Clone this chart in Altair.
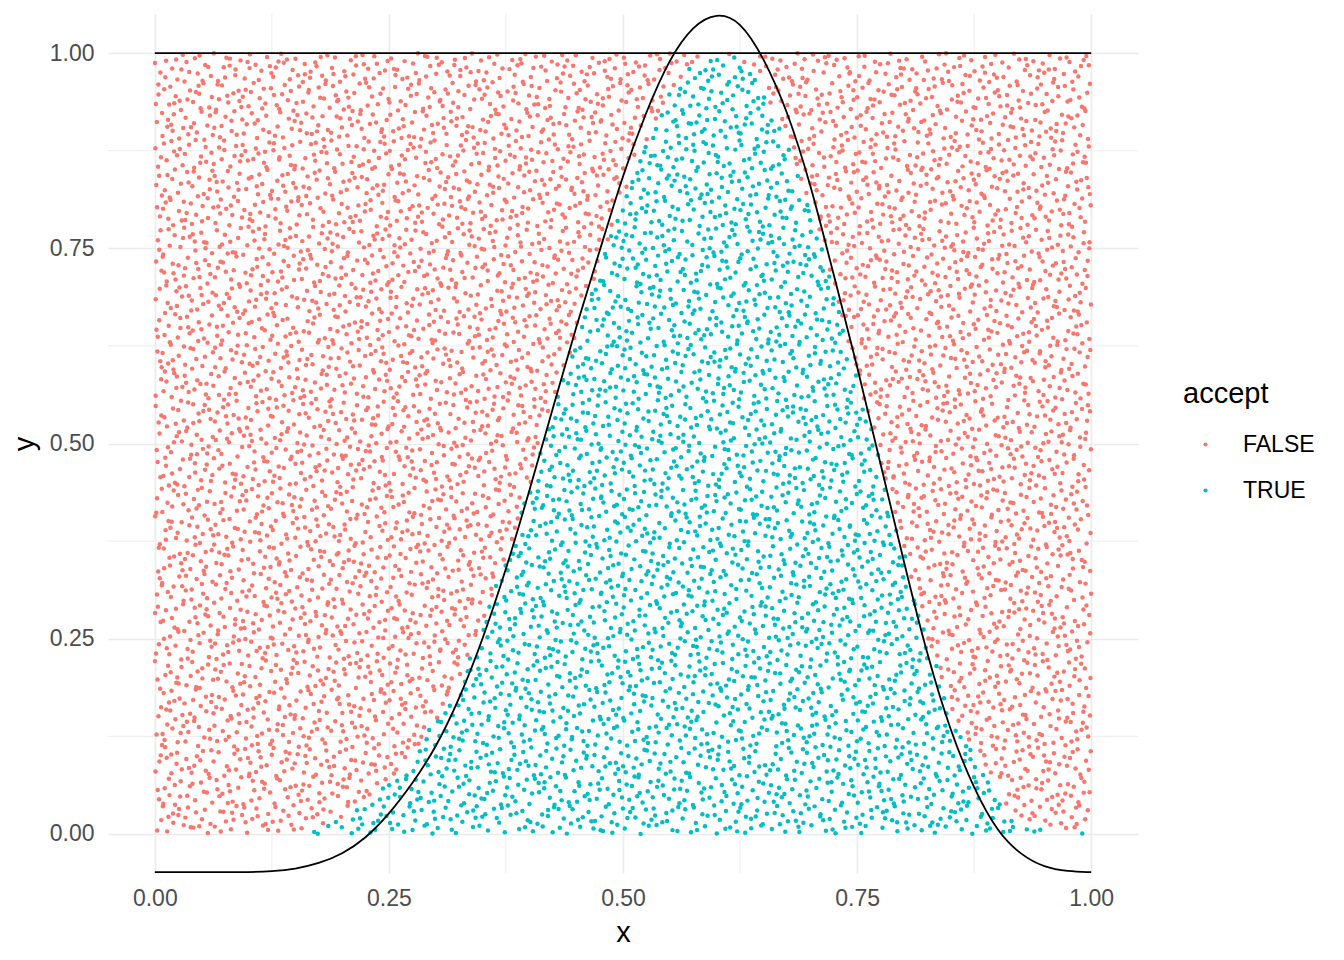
import numpy as np
import pandas as pd
import altair as alt

# ---- values ----
X_BREAKS = [0.0, 0.25, 0.5, 0.75, 1.0]
Y_BREAKS = [0.0, 0.25, 0.5, 0.75, 1.0]
MINOR_BREAKS = [0.125, 0.375, 0.625, 0.875]

# target curve as drawn
CURVE_X = [0.000, 0.025, 0.050, 0.075, 0.100, 0.125, 0.150, 0.175, 0.200, 0.225,
           0.250, 0.275, 0.300, 0.325, 0.350, 0.375, 0.400, 0.425, 0.450, 0.475,
           0.500, 0.525, 0.550, 0.575, 0.600, 0.625, 0.650, 0.675, 0.700, 0.725,
           0.750, 0.775, 0.800, 0.825, 0.850, 0.875, 0.900, 0.925, 0.950, 0.975, 1.000]
CURVE_Y = [-0.049, -0.049, -0.049, -0.049, -0.049, -0.048, -0.045, -0.038, -0.026, -0.006,
           0.025, 0.064, 0.110, 0.172, 0.248, 0.338, 0.439, 0.545, 0.650, 0.746,
           0.845, 0.926, 0.994, 1.036, 1.052, 1.042, 0.995, 0.928, 0.834, 0.716,
           0.600, 0.474, 0.348, 0.228, 0.130, 0.057, 0.002, -0.027, -0.043, -0.048, -0.049]

# envelope line at y = 1
ENV_X = [0.0, 1.0]
ENV_Y = [1.0, 1.0]

# proposal cloud: uniform over the unit square, about 8500 points
N_POINTS = 8500
CATEGORIES = ["FALSE", "TRUE"]
COLORS = ["#F8766D", "#00BFC4"]


def halton(n, base, leap):
    out = np.zeros(n)
    for i in range(n):
        f, r, k = 1.0, 0.0, i * leap + 1
        while k > 0:
            f /= base
            r += f * (k % base)
            k //= base
        out[i] = r
    return out


px = halton(N_POINTS, 2, 409)
py = halton(N_POINTS, 3, 409)
acc_level = (np.interp(px, CURVE_X, CURVE_Y) + 0.05) / 1.1
accept = np.where(py < acc_level, "TRUE", "FALSE")
points = pd.DataFrame({"x": px, "y": py, "accept": accept})
curve = pd.DataFrame({"x": CURVE_X, "y": CURVE_Y})
env = pd.DataFrame({"x": ENV_X, "y": ENV_Y})
minor = pd.DataFrame({"v": MINOR_BREAKS})

FONT = "Liberation Sans"
xscale = alt.Scale(domain=[-0.05, 1.05], nice=False, zero=False)
yscale = alt.Scale(domain=[-0.05, 1.05], nice=False, zero=False)

xaxis = alt.Axis(values=X_BREAKS, format=".2f", title="x", domain=False, ticks=False, tickSize=0,
                 labelPadding=14, labelFontSize=23, labelColor="#4D4D4D", labelFont=FONT,
                 titleFont=FONT, titleFontSize=29, titleFontWeight="normal", titleColor="#000000",
                 titlePadding=8, grid=True, gridColor="#EBEBEB", gridWidth=1.7,
                 labelFlush=False)
yaxis = alt.Axis(values=Y_BREAKS, format=".2f", title="y", domain=False, ticks=False, tickSize=0,
                 labelPadding=14, labelFontSize=23, labelColor="#4D4D4D", labelFont=FONT,
                 titleFont=FONT, titleFontSize=29, titleFontWeight="normal", titleColor="#000000",
                 titlePadding=10, grid=True, gridColor="#EBEBEB", gridWidth=1.7,
                 labelFlush=False)

minor_x = alt.Chart(minor).mark_rule(color="#EBEBEB", strokeWidth=0.9).encode(
    x=alt.X("v:Q", scale=xscale, axis=xaxis))
minor_y = alt.Chart(minor).mark_rule(color="#EBEBEB", strokeWidth=0.9).encode(
    y=alt.Y("v:Q", scale=yscale, axis=yaxis))

pts = alt.Chart(points).mark_circle(size=20, opacity=1).encode(
    x=alt.X("x:Q", scale=xscale, axis=xaxis),
    y=alt.Y("y:Q", scale=yscale, axis=yaxis),
    color=alt.Color("accept:N", scale=alt.Scale(domain=CATEGORIES, range=COLORS),
                    legend=alt.Legend(title="accept", orient="none", legendX=1075, legendY=366,
                                      titleFontSize=29, titleFont=FONT, titleFontWeight="normal",
                                      titleColor="#000000", titlePadding=24,
                                      labelFontSize=23, labelFont=FONT, labelColor="#000000",
                                      symbolType="circle", symbolSize=18, symbolOffset=11,
                                      symbolStrokeWidth=0, labelOffset=26, rowPadding=22,
                                      padding=0)),
)

env_line = alt.Chart(env).mark_line(color="#000000", strokeWidth=1.8).encode(
    x=alt.X("x:Q", scale=xscale, axis=xaxis), y=alt.Y("y:Q", scale=yscale, axis=yaxis))
curve_line = alt.Chart(curve).mark_line(color="#000000", strokeWidth=1.8, interpolate="basis").encode(
    x=alt.X("x:Q", scale=xscale, axis=xaxis), y=alt.Y("y:Q", scale=yscale, axis=yaxis))

chart = alt.layer(minor_x, minor_y, pts, env_line, curve_line).properties(
    width=1030, height=859,
    padding={"left": 100, "top": 6, "right": 198, "bottom": 75},
    autosize=alt.AutoSizeParams(type="none"),
).configure(font=FONT, view=alt.ViewConfig(stroke=None))

chart.save("out.html", embed_options={"renderer": "svg", "actions": False})
